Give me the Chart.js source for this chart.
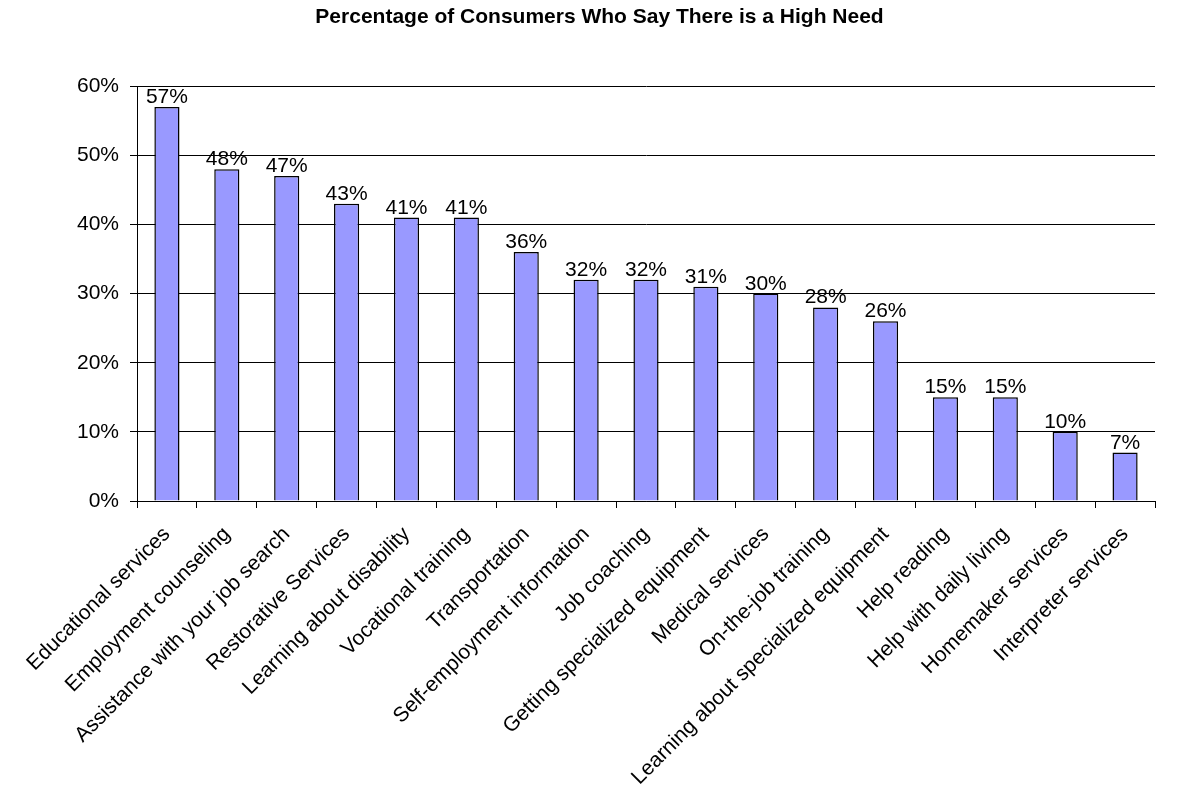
<!DOCTYPE html>
<html>
<head>
<meta charset="utf-8">
<script src="https://cdn.jsdelivr.net/npm/chart.js@4/dist/chart.umd.min.js"></script>
<style>
html,body{margin:0;padding:0;background:#fff;}
#wrap{width:1199px;height:802px;}
</style>
</head>
<body>
<div id="wrap"><canvas id="c" width="1199" height="802"></canvas></div>
<script>
const categories = ["Educational services","Employment counseling","Assistance with your job search","Restorative Services","Learning about disability","Vocational training","Transportation","Self-employment information","Job coaching","Getting specialized equipment","Medical services","On-the-job training","Learning about specialized equipment","Help reading","Help with daily living","Homemaker services","Interpreter services"];
const values = [57,48,47,43,41,41,36,32,32,31,30,28,26,15,15,10,7];
const yTicks = [0,10,20,30,40,50,60];
const titleText = "Percentage of Consumers Who Say There is a High Need";

const FONT = '"Liberation Sans", Arial, sans-serif';

const labelPlugin = {
  id: 'barLabels',
  afterDatasetsDraw(chart) {
    const ctx = chart.ctx;
    const meta = chart.getDatasetMeta(0);
    ctx.save();
    ctx.font = '21px ' + FONT;
    ctx.fillStyle = '#000';
    ctx.textAlign = 'center';
    ctx.textBaseline = 'alphabetic';
    meta.data.forEach((bar, i) => {
      ctx.fillText(values[i] + '%', bar.x, bar.y - 4);
    });
    ctx.restore();
  }
};

new Chart(document.getElementById('c'), {
  type: 'bar',
  data: {
    labels: categories,
    datasets: [{
      data: values,
      backgroundColor: '#9999FF',
      borderColor: '#000000',
      borderWidth: 1.5,
      barPercentage: 0.42,
      categoryPercentage: 1.0,
      yAxisID: 'y'
    }]
  },
  options: {
    responsive: false,
    animation: false,
    devicePixelRatio: 1,
    layout: { padding: { left: 0, right: 0, top: 5, bottom: 0 } },
    plugins: {
      legend: { display: false },
      tooltip: { enabled: false },
      title: {
        display: true,
        text: titleText,
        color: '#000',
        font: { family: FONT, size: 21, weight: 'bold', lineHeight: 1.2 },
        padding: { top: 0, bottom: 56 }
      }
    },
    scales: {
      x: {
        grid: { display: true, drawOnChartArea: false, drawTicks: true, tickLength: 7, color: '#000', offset: true },
        border: { display: true, color: '#000', width: 1 },
        ticks: {
          color: '#000',
          maxRotation: 45, minRotation: 45,
          autoSkip: false,
          padding: 14,
          font: { family: FONT, size: 21 }
        },
        afterFit(scale) { scale.height = 301; }
      },
      y: {
        min: 0, max: 60,
        afterBuildTicks(scale) { scale.ticks = yTicks.map(v => ({ value: v })); },
        grid: { color: '#000', tickLength: 7, drawTicks: true },
        border: { display: true, color: '#000', width: 1 },
        ticks: {
          color: '#000',
          padding: 11,
          font: { family: FONT, size: 21 },
          callback: v => v + '%'
        },
        afterFit(scale) { scale.width = 137; }
      },
      spacer: {
        position: 'right',
        display: true,
        min: 0, max: 60,
        grid: { display: false, drawOnChartArea: false },
        border: { display: false },
        ticks: { display: false },
        afterFit(scale) { scale.width = 44; }
      }
    }
  },
  plugins: [labelPlugin]
});
</script>
</body>
</html>
